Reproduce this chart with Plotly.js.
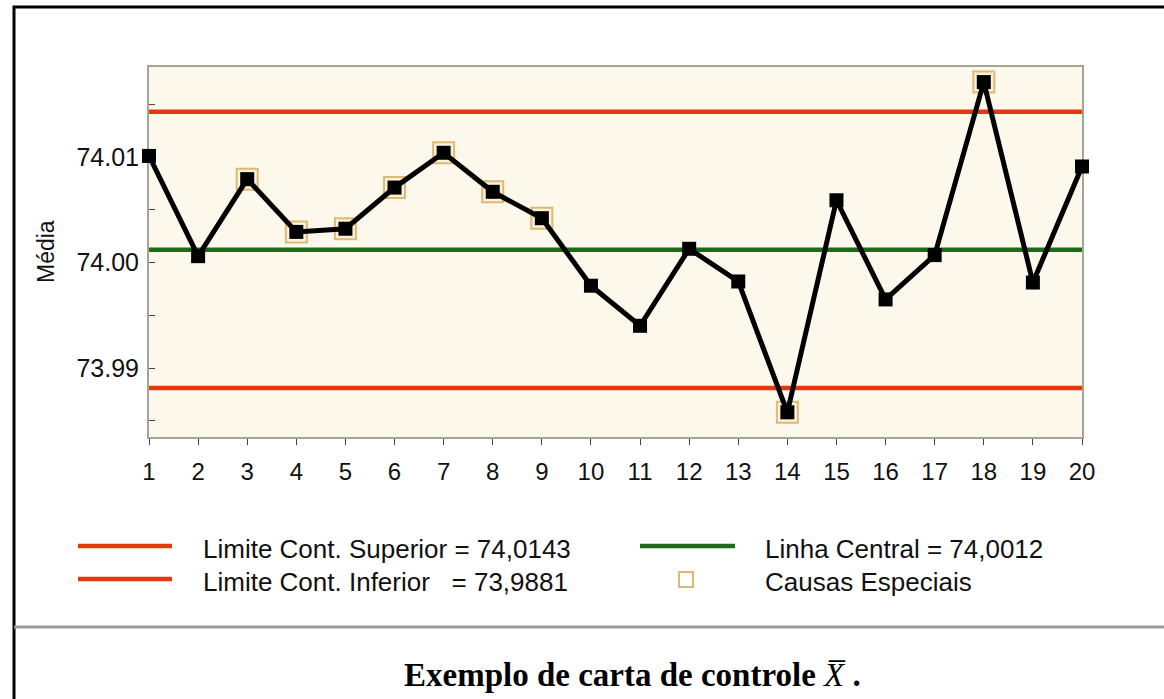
<!DOCTYPE html>
<html>
<head>
<meta charset="utf-8">
<script src="https://cdn.plot.ly/plotly-3.0.1.min.js"></script>
<style>html,body{margin:0;padding:0;background:#fff;}#chart{width:1164px;height:699px;}</style>
</head>
<body>
<div id="chart"></div>
<script>
// ---- data ----
const subgroups = [1,2,3,4,5,6,7,8,9,10,11,12,13,14,15,16,17,18,19,20];
const means = [74.0101, 74.0006, 74.0079, 74.0029, 74.0032, 74.0071, 74.0104, 74.0067, 74.0042, 73.9978,
               73.9940, 74.0013, 73.9982, 73.9858, 74.0059, 73.9965, 74.0007, 74.0171, 73.9981, 74.0091];
const ucl = 74.0143;
const centerLine = 74.0012;
const lcl = 73.9881;
const specialCauses = [3,4,5,6,7,8,9,14,18];
const yTickVals = [73.99, 74.00, 74.01];
const yTickText = ["73.99", "74.00", "74.01"];
const legendLabels = ["Limite Cont. Superior = 74,0143", "Limite Cont. Inferior\u00a0\u00a0\u00a0= 73,9881",
                      "Linha Central = 74,0012", "Causas Especiais"];
const chartTitle = "<b>Exemplo de carta de controle </b><i>X\u0305</i><b> .</b>";
const yTitle = "Média";

// ---- layout helpers (pixel -> paper) ----
const W = 1164, H = 699, ML = 149, MR = 82, MT = 67, MB = 262;
const PW = W - ML - MR, PH = H - MT - MB;
const px = x => (x - ML) / PW;
const py = y => (H - MB - y) / PH;

const RED = '#e4390e', GREEN = '#1d6a1a', TAN = '#dfb874';
const xFirst = subgroups[0], xLast = subgroups[subgroups.length - 1];

const traces = [
  {x: [xFirst, xLast], y: [ucl, ucl], mode: 'lines', line: {color: RED, width: 4.5}, hoverinfo: 'skip', cliponaxis: false},
  {x: [xFirst, xLast], y: [lcl, lcl], mode: 'lines', line: {color: RED, width: 4.5}, hoverinfo: 'skip', cliponaxis: false},
  {x: [xFirst, xLast], y: [centerLine, centerLine], mode: 'lines', line: {color: GREEN, width: 4.5}, hoverinfo: 'skip', cliponaxis: false},
  {x: specialCauses, y: specialCauses.map(i => means[subgroups.indexOf(i)]), mode: 'markers',
   marker: {symbol: 'square', size: 21, color: '#fbf1dc', line: {color: TAN, width: 2}}, cliponaxis: false},
  {x: subgroups, y: means, mode: 'lines+markers', line: {color: '#000', width: 5},
   marker: {symbol: 'square', size: 14, color: '#000'}, cliponaxis: false}
];

const font = 'Liberation Sans, Arial, sans-serif';
const shapes = [
  {type: 'rect', xref: 'paper', yref: 'paper', x0: px(14), x1: px(1172), y0: py(708), y1: py(7), line: {color: '#000', width: 3}},
  {type: 'line', xref: 'paper', yref: 'paper', x0: px(14), x1: px(1172), y0: py(627), y1: py(627), line: {color: '#9a9a9a', width: 3}},
  {type: 'line', xref: 'paper', yref: 'paper', x0: px(78), x1: px(172), y0: py(546), y1: py(546), line: {color: RED, width: 4.5}},
  {type: 'line', xref: 'paper', yref: 'paper', x0: px(78), x1: px(172), y0: py(579), y1: py(579), line: {color: RED, width: 4.5}},
  {type: 'line', xref: 'paper', yref: 'paper', x0: px(640), x1: px(735), y0: py(546), y1: py(546), line: {color: GREEN, width: 4.5}},
  {type: 'rect', xref: 'paper', yref: 'paper', x0: px(679), x1: px(693), y0: py(587), y1: py(572), line: {color: TAN, width: 2}}
];

const ann = (x, y, text, size, extra) => Object.assign({xref: 'paper', yref: 'paper', x: px(x), y: py(y), text: text,
  showarrow: false, xanchor: 'left', yanchor: 'middle', font: {family: font, size: size, color: '#111'}}, extra || {});

const annotations = [
  ann(201, 549, legendLabels[0], 26),
  ann(201, 582, legendLabels[1], 26),
  ann(763, 549, legendLabels[2], 26),
  ann(763, 582, legendLabels[3], 26),
  ann(632, 675, chartTitle, 33, {xanchor: 'center', font: {family: 'Liberation Serif, Times New Roman, serif', size: 33, color: '#000'}}),
  ann(46, 252, yTitle, 23, {xanchor: 'center', textangle: -90})
];

const layout = {
  width: W, height: H,
  margin: {l: ML, r: MR, t: MT, b: MB, pad: 0},
  paper_bgcolor: '#fff', plot_bgcolor: '#fdf8ec',
  showlegend: false,
  xaxis: {range: [xFirst, xLast], tickvals: subgroups, ticktext: subgroups.map(String), showgrid: false, zeroline: false,
          showline: true, mirror: true, linecolor: '#a6a493', linewidth: 2, ticks: 'outside', ticklen: 6, tickcolor: '#444',
          layer: 'below traces',
          ticklabelstandoff: 6, tickfont: {family: font, size: 24, color: '#111'}},
  yaxis: {range: [73.98346, 74.01853], tickvals: yTickVals, ticktext: yTickText, showgrid: false, zeroline: false,
          showline: true, mirror: true, linecolor: '#a6a493', linewidth: 2, ticks: 'inside', ticklen: 6, tickcolor: '#444',
          layer: 'below traces',
          minor: {tickvals: [73.985, 73.995, 74.005, 74.015], ticks: 'inside', ticklen: 6, tickcolor: '#444', showgrid: false},
          ticklabelstandoff: 3, tickfont: {family: font, size: 25, color: '#111'}},
  shapes: shapes,
  annotations: annotations
};

Plotly.newPlot('chart', traces, layout, {displayModeBar: false, staticPlot: true});
</script>
</body>
</html>
